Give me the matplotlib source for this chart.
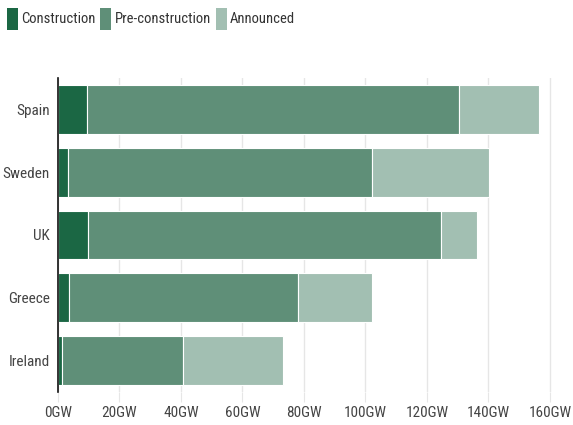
import matplotlib
matplotlib.use("Agg")
import matplotlib.pyplot as plt
from matplotlib import font_manager as fm
from matplotlib.patches import Rectangle

# look for a condensed / narrow sans font
cond = None
prefs = ["open sans", "liberation sans", "roboto", "noto sans", "dejavu sans", "lato"]
cands = []
for f in fm.fontManager.ttflist:
    key = (f.fname + " " + f.name + " " + str(f.stretch)).lower()
    if ("condensed" in key or "narrow" in key) and f.weight in (400, "normal", "regular") and f.style == "normal":
        if "semi" in key or "extra" in key or "bold" in f.fname.lower() or "light" in f.fname.lower():
            continue
        cands.append(f)
for p in prefs:
    for f in cands:
        if p in f.name.lower():
            cond = f
            break
    if cond:
        break
if cond is None and cands:
    cond = cands[0]

if cond is not None:
    fp = fm.FontProperties(fname=cond.fname)
    fs_tick, fs_leg = 11, 10.5
else:
    fp = fm.FontProperties(family="Open Sans")
    fs_tick, fs_leg = 9.5, 9.5

countries = ["Spain", "Sweden", "UK", "Greece", "Ireland"]
construction = [9.5, 3.3, 9.8, 3.5, 1.3]
pre_construction = [121.0, 98.7, 114.7, 74.4, 39.2]
announced = [26.0, 38.2, 11.8, 24.1, 32.8]
series_names = ["Construction", "Pre-construction", "Announced"]
colors = ["#1b6744", "#5f8f78", "#a2bfb2"]
xticks = [0, 20, 40, 60, 80, 100, 120, 140, 160]
xticklabels = [f"{v}GW" for v in xticks]

fig = plt.figure(figsize=(5.73, 4.25), dpi=100)
ax = fig.add_axes([58/573, 1-392/425, (553-58)/573, (392-78)/425])

y = list(range(len(countries)))
left = [0]*len(countries)
for vals, col, nm in zip([construction, pre_construction, announced], colors, series_names):
    ax.barh(y, vals, left=left, height=0.78, color=col, edgecolor="white", linewidth=0.8, label=nm, zorder=3)
    left = [l+v for l, v in zip(left, vals)]

ax.set_ylim(len(countries)-0.5, -0.5)
ax.set_xlim(0, 161)
ax.set_yticks(y)
ax.set_yticklabels(countries, fontproperties=fp, fontsize=fs_tick, color="#444444")
ax.set_xticks(xticks)
ax.set_xticklabels(xticklabels, fontproperties=fp, fontsize=fs_tick, color="#444444")
ax.tick_params(axis='y', length=0, pad=6)
ax.tick_params(axis='x', length=7, color="#e6e6e6", pad=3)
ax.grid(axis='x', color="#e6e6e6", linewidth=1, zorder=0)
for s in ["top", "right", "bottom"]:
    ax.spines[s].set_visible(False)
ax.spines["left"].set_color("#111111")
ax.spines["left"].set_linewidth(1.2)
ax.spines["left"].set_zorder(4)

# legend
x0 = 7
for nm, col in zip(series_names, colors):
    fig.patches.append(Rectangle((x0/573, 1-30/425), 11/573, 22/425, transform=fig.transFigure,
                                 facecolor=col, edgecolor="none"))
    t = fig.text((x0+14)/573, 1-19/425, nm, fontproperties=fp, fontsize=fs_leg, color="#333333",
                 va="center", ha="left")
    fig.canvas.draw()
    bb = t.get_window_extent()
    x0 = bb.x1 + 5

fig.savefig("out.png", dpi=100)
